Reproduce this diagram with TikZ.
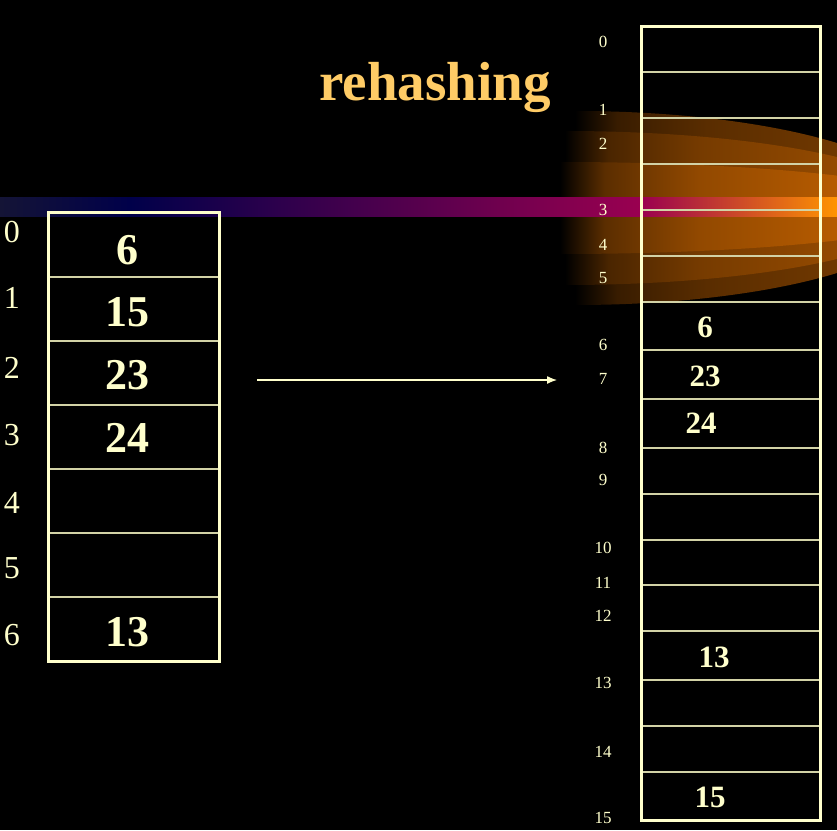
\documentclass[tikz,border=0pt]{standalone}
\usepackage{fontspec}
\setmainfont{Liberation Serif}
\usepackage{tikz}
\usetikzlibrary{positioning,arrows.meta}

\definecolor{cream}{HTML}{FFFFCC}
\definecolor{rowline}{HTML}{D2D2A6}
\definecolor{titlecol}{HTML}{FFCC66}
\definecolor{navyband}{HTML}{00004A}
\definecolor{navyedge}{HTML}{141436}
\definecolor{magband}{HTML}{9A0050}
\definecolor{orangeband}{HTML}{FF9400}
\definecolor{glowA}{HTML}{703800}
\definecolor{glowB}{HTML}{944A00}
\definecolor{glowC}{HTML}{B65B00}
% glow ramps (path spans 25bp..75bp)
\pgfdeclarehorizontalshading{rampA}{100bp}{color(0bp)=(black); color(25bp)=(black); color(33bp)=(glowA!50!black); color(50bp)=(glowA!80!black); color(75bp)=(glowA); color(100bp)=(glowA)}
\pgfdeclarehorizontalshading{rampB}{100bp}{color(0bp)=(black); color(25bp)=(black); color(33bp)=(glowB!50!black); color(50bp)=(glowB!80!black); color(75bp)=(glowB); color(100bp)=(glowB)}
\pgfdeclarehorizontalshading{rampC}{100bp}{color(0bp)=(black); color(25bp)=(black); color(33bp)=(glowC!50!black); color(50bp)=(glowC!80!black); color(75bp)=(glowC); color(100bp)=(glowC)}

\begin{document}
\begin{tikzpicture}[x=1pt, y=-1pt,
    oldcell/.style={draw=rowline, line width=1.5pt, rectangle, minimum width=170pt, minimum height=64pt, inner sep=0pt},
    newcell/.style={draw=rowline, line width=1.5pt, rectangle, minimum width=178pt, inner sep=0pt},
    border/.style={draw=cream, line width=3pt},
    oldidx/.style={text=cream, inner sep=0pt, font=\fontsize{32}{36}\selectfont},
    oldval/.style={text=cream, inner sep=0pt, font=\fontsize{44}{48}\selectfont\bfseries},
    newidx/.style={text=cream, inner sep=0pt, font=\fontsize{17}{20}\selectfont},
    newval/.style={text=cream, inner sep=0pt, font=\fontsize{31}{34}\selectfont\bfseries},
    link/.style={draw=cream, line width=1.3pt, -{Latex[length=10pt, width=8pt]}}]
    % background
    \fill[black] (0,0) rectangle (837,830);
    \useasboundingbox (0,0) rectangle (837,830);
    % glow
    \begin{scope}
        \clip (575,208) ellipse [x radius=353, y radius=97];
        \shade[shading=rampA] (575,111) rectangle (837,305);
    \end{scope}
    \begin{scope}
        \clip (565,208) ellipse [x radius=363, y radius=77];
        \shade[shading=rampB] (565,130) rectangle (837,286);
    \end{scope}
    \begin{scope}
        \clip (560,208) ellipse [x radius=390, y radius=46];
        \shade[shading=rampC] (560,160) rectangle (837,256);
    \end{scope}
    \shade[left color=navyedge, right color=navyband] (0,197) rectangle (130,216);
    \shade[left color=navyband, right color=magband] (130,197) rectangle (641,216);
    \shade[left color=magband, right color=orangeband] (641,197) rectangle (837,216);
    % title
    \node[text=titlecol, inner sep=0pt, font=\fontsize{55}{60}\selectfont\bfseries] (title) at (435,87) {rehashing};
    % old table
    \foreach \i in {0,...,6}
        \node[oldcell] (old\i) at (134,{245+64*\i}) {};
    \draw[border] (old0.north west) rectangle (old6.south east);
    \foreach \n/\y in {0/232, 1/298, 2/368, 3/435, 4/503, 5/568, 6/635}
        \node[oldidx] (oidx\n) at (12,\y) {\n};
    \node[oldval] (ov0) at (127,250) {6};
    \node[oldval] (ov1) at (127,312) {15};
    \node[oldval] (ov2) at (127,375) {23};
    \node[oldval] (ov3) at (127,438) {24};
    \node[oldval] (ov6) at (127,632) {13};
    % new table
    \foreach \t/\b [count=\i from 0] in {26/71, 71/117, 117/163, 163/209, 209/255, 255/301, 301/349, 349/398, 398/447, 447/493, 493/539, 539/584, 584/630, 630/679, 679/725, 725/771, 771/819}
        \node[newcell, minimum height={(\b-\t)*1pt}, anchor=north west] (new\i) at (641,\t) {};
    \draw[border] (new0.north west) rectangle (new16.south east);
    \foreach \n/\y in {0/42, 1/110, 2/144, 3/210, 4/245, 5/278, 6/345, 7/379, 8/448, 9/480, 10/548, 11/583, 12/616, 13/683, 14/752, 15/818}
        \node[newidx] (nidx\n) at (603,\y) {\n};
    \node[newval] (nv6) at (705,327) {6};
    \node[newval] (nv23) at (705,376) {23};
    \node[newval] (nv24) at (701,423) {24};
    \node[newval] (nv13) at (714,657) {13};
    \node[newval] (nv15) at (710,797) {15};
    % arrow
    \coordinate (from) at (257,380);
    \coordinate (to) at (557,380);
    \draw[link] (from) -- (to);
\end{tikzpicture}
\end{document}
